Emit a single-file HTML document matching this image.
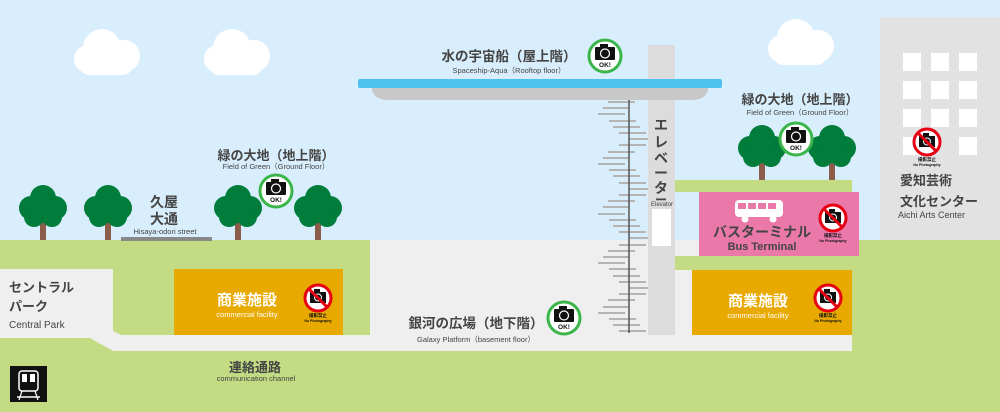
<!DOCTYPE html>
<html><head><meta charset="utf-8"><style>
html,body{margin:0;padding:0;background:#d9eefc;}
svg{display:block}
text{font-family:"Liberation Sans","Noto Sans CJK JP",sans-serif;}
.jp{font-weight:bold;fill:#444;}
.en{fill:#444;}
</style></head><body>
<svg width="1000" height="412" viewBox="0 0 1000 412" xmlns="http://www.w3.org/2000/svg">
<defs>
<g id="tree">
 <rect x="-3" y="12" width="6" height="22" fill="#8b5e4c"/>
 <circle cx="-12" cy="2" r="12" fill="#007d3a"/>
 <circle cx="12" cy="2" r="12" fill="#007d3a"/>
 <circle cx="0" cy="-8" r="13" fill="#007d3a"/>
 <circle cx="-9" cy="11" r="10" fill="#007d3a"/>
 <circle cx="9" cy="11" r="10" fill="#007d3a"/>
 <circle cx="0" cy="5" r="12" fill="#007d3a"/>
</g>
<g id="cloud">
 <circle cx="-18" cy="6" r="14" fill="#fff"/>
 <circle cx="18" cy="3" r="16" fill="#fff"/>
 <circle cx="-4" cy="-5" r="19" fill="#fff"/>
 <rect x="-26" y="4" width="52" height="18" rx="9" fill="#fff"/>
</g>
<g id="ok">
 <circle r="16" fill="#fff" stroke="#3bb54a" stroke-width="3"/>
 <rect x="-10" y="-9" width="20" height="13" rx="1" fill="#111"/>
 <rect x="-5" y="-12" width="8" height="4" fill="#111"/>
 <circle cx="0" cy="-2.5" r="4.5" fill="none" stroke="#fff" stroke-width="1.2"/>
 <text x="0" y="11" font-size="6.5" font-weight="bold" text-anchor="middle" fill="#111">OK!</text>
</g>
<g id="no">
 <circle r="13" fill="#fff" stroke="#e60012" stroke-width="3"/>
 <rect x="-8" y="-6" width="16" height="11" fill="#111"/>
 <rect x="-4" y="-9" width="6" height="3" fill="#111"/>
 <circle cx="0" cy="-0.5" r="3.5" fill="none" stroke="#fff" stroke-width="1"/>
 <line x1="-9" y1="-9" x2="9" y2="9" stroke="#e60012" stroke-width="3"/>
 <text x="0" y="19" font-size="4.5" font-weight="bold" text-anchor="middle" fill="#111">撮影禁止</text>
 <text x="0" y="24" font-size="3.5" font-weight="bold" text-anchor="middle" fill="#111">No Photography</text>
</g>
</defs>
<rect width="1000" height="412" fill="#d9eefc"/>
<use href="#cloud" x="106" y="53"/>
<use href="#cloud" x="236" y="53"/>
<use href="#cloud" x="800" y="43"/>
<!-- building -->
<rect x="880" y="17" width="120" height="225" fill="#e2e2e2"/>
<g fill="#fff">
<rect x="903" y="53" width="18" height="18"/><rect x="931" y="53" width="18" height="18"/><rect x="959" y="53" width="18" height="18"/>
<rect x="903" y="81" width="18" height="18"/><rect x="931" y="81" width="18" height="18"/><rect x="959" y="81" width="18" height="18"/>
<rect x="903" y="109" width="18" height="18"/><rect x="931" y="109" width="18" height="18"/><rect x="959" y="109" width="18" height="18"/>
<rect x="903" y="137" width="18" height="18"/><rect x="959" y="137" width="18" height="18"/>
</g>
<!-- ground -->
<rect x="0" y="240" width="1000" height="172" fill="#c3dc83"/>
<rect x="370" y="240" width="305" height="111" fill="#efefef"/>
<rect x="675" y="240" width="177" height="111" fill="#efefef"/>
<polygon points="0,269 113,269 113,331 121,335 852,335 852,351 113,351 90,338 0,338" fill="#efefef"/>
<rect x="674" y="180" width="178" height="12" fill="#c3dc83"/>
<rect x="674" y="256" width="178" height="14" fill="#c3dc83"/>
<rect x="852" y="240" width="148" height="172" fill="#c3dc83"/>
<rect x="121" y="237" width="91" height="4" fill="#888"/>
<!-- trees -->
<use href="#tree" x="43" y="206"/>
<use href="#tree" x="108" y="206"/>
<use href="#tree" x="238" y="206"/>
<use href="#tree" x="318" y="206"/>
<use href="#tree" x="762" y="146"/>
<use href="#tree" x="832" y="146"/>
<!-- boxes -->
<rect x="174" y="269" width="169" height="66" fill="#e8a900"/>
<rect x="692" y="270" width="160" height="65" fill="#e8a900"/>
<rect x="699" y="192" width="160" height="64" fill="#ea79a9"/>
<!-- bus -->
<g fill="#fff">
<rect x="735" y="200" width="48" height="17" rx="4"/>
<circle cx="745" cy="219" r="3.5"/><circle cx="773" cy="219" r="3.5"/>
</g>
<g fill="#ea79a9"><rect x="738" y="203" width="8" height="6"/><rect x="748" y="203" width="8" height="6"/><rect x="758" y="203" width="8" height="6"/><rect x="768" y="203" width="8" height="6"/></g>
<!-- elevator -->
<rect x="648" y="45" width="27" height="290" fill="#dcdcdc"/>
<rect x="652" y="209" width="19" height="37" fill="#fff"/>
<!-- spaceship -->
<path d="M372,88 L708,88 Q708,100 690,100 L390,100 Q372,100 372,88 Z" fill="#c8c8c8"/>
<rect x="358" y="79" width="364" height="9" rx="2" fill="#4fc1ef"/>
<!-- stairs -->
<g stroke="#b4b4b4" stroke-width="2">
<line x1="608" y1="102" x2="635" y2="102"/><line x1="603" y1="108" x2="629" y2="108"/><line x1="598" y1="114" x2="625" y2="114"/><line x1="609" y1="121" x2="636" y2="121"/><line x1="613" y1="127" x2="640" y2="127"/><line x1="619" y1="133" x2="646" y2="133"/><line x1="629" y1="139" x2="648" y2="139"/><line x1="619" y1="145" x2="646" y2="145"/><line x1="608" y1="152" x2="635" y2="152"/>
<line x1="603" y1="158" x2="629" y2="158"/><line x1="598" y1="164" x2="625" y2="164"/><line x1="609" y1="170" x2="636" y2="170"/><line x1="613" y1="176" x2="640" y2="176"/><line x1="619" y1="183" x2="646" y2="183"/><line x1="629" y1="189" x2="648" y2="189"/><line x1="619" y1="195" x2="646" y2="195"/><line x1="608" y1="201" x2="635" y2="201"/><line x1="603" y1="207" x2="629" y2="207"/>
<line x1="598" y1="214" x2="625" y2="214"/><line x1="609" y1="220" x2="636" y2="220"/><line x1="613" y1="226" x2="640" y2="226"/><line x1="619" y1="232" x2="646" y2="232"/><line x1="629" y1="238" x2="648" y2="238"/><line x1="619" y1="245" x2="646" y2="245"/><line x1="608" y1="251" x2="635" y2="251"/><line x1="603" y1="257" x2="629" y2="257"/><line x1="598" y1="263" x2="625" y2="263"/>
<line x1="609" y1="269" x2="636" y2="269"/><line x1="613" y1="276" x2="640" y2="276"/><line x1="619" y1="282" x2="646" y2="282"/><line x1="629" y1="288" x2="648" y2="288"/><line x1="619" y1="294" x2="646" y2="294"/><line x1="608" y1="300" x2="635" y2="300"/><line x1="603" y1="307" x2="629" y2="307"/><line x1="598" y1="313" x2="625" y2="313"/><line x1="609" y1="319" x2="636" y2="319"/><line x1="613" y1="325" x2="640" y2="325"/><line x1="619" y1="331" x2="646" y2="331"/>
</g>
<line x1="629" y1="100" x2="629" y2="333" stroke="#555" stroke-width="1.5"/>
<!-- train icon -->
<rect x="10" y="366" width="37" height="36" fill="#111"/>
<rect x="19" y="371" width="19" height="20" rx="3" fill="none" stroke="#fff" stroke-width="1.5"/>
<rect x="22" y="374" width="5" height="8" fill="#fff"/><rect x="30" y="374" width="5" height="8" fill="#fff"/>
<line x1="17" y1="397" x2="40" y2="397" stroke="#fff" stroke-width="1.5"/>
<line x1="22" y1="391" x2="19" y2="400" stroke="#fff" stroke-width="1.2"/><line x1="35" y1="391" x2="38" y2="400" stroke="#fff" stroke-width="1.2"/>
<!-- badges -->
<use href="#ok" x="276" y="191"/>
<use href="#ok" x="605" y="56"/>
<use href="#ok" x="564" y="318"/>
<use href="#ok" x="796" y="139"/>
<use href="#no" x="927" y="142"/>
<use href="#no" x="833" y="218"/>
<use href="#no" x="318" y="298"/>
<use href="#no" x="828" y="298"/>
<!-- texts -->
<text class="jp" x="276" y="160" font-size="13" text-anchor="middle">緑の大地（地上階）</text>
<text class="en" x="276" y="169" font-size="7.5" text-anchor="middle">Field of Green（Ground Floor）</text>
<text class="jp" x="164" y="207" font-size="14" text-anchor="middle">久屋</text>
<text class="jp" x="164" y="224" font-size="14" text-anchor="middle">大通</text>
<text class="en" x="165" y="234" font-size="7.5" text-anchor="middle">Hisaya-odori street</text>
<text class="jp" x="509" y="61" font-size="13.5" text-anchor="middle">水の宇宙船（屋上階）</text>
<text class="en" x="509" y="73" font-size="7.5" text-anchor="middle">Spaceship-Aqua（Rooftop floor）</text>
<text class="jp" x="800" y="104" font-size="13" text-anchor="middle">緑の大地（地上階）</text>
<text class="en" x="800" y="115" font-size="7.5" text-anchor="middle">Field of Green（Ground Floor）</text>
<text class="jp" x="900" y="185" font-size="13">愛知芸術</text>
<text class="jp" x="900" y="206" font-size="13">文化センター</text>
<text class="en" x="898" y="218" font-size="9">Aichi Arts Center</text>
<g class="jp" font-size="14" text-anchor="middle">
<text x="661" y="130">エ</text><text x="661" y="147">レ</text><text x="661" y="163">ベ</text><text x="661" y="178">ー</text><text x="661" y="193">タ</text><text x="661" y="204" font-size="12">ー</text>
</g>
<text class="en" x="662" y="206" font-size="6" text-anchor="middle">Elevator</text>
<text class="jp" x="762" y="237" font-size="14" text-anchor="middle">バスターミナル</text>
<text class="en" x="762" y="250" font-size="11" font-weight="bold" text-anchor="middle" fill="#444">Bus Terminal</text>
<text x="247" y="305" font-size="15" font-weight="bold" fill="#fff" text-anchor="middle">商業施設</text>
<text x="247" y="317" font-size="7.5" fill="#fff" text-anchor="middle">commercial facility</text>
<text x="758" y="306" font-size="15" font-weight="bold" fill="#fff" text-anchor="middle">商業施設</text>
<text x="758" y="318" font-size="7.5" fill="#fff" text-anchor="middle">commercial facility</text>
<text class="jp" x="476" y="328" font-size="13.5" text-anchor="middle">銀河の広場（地下階）</text>
<text class="en" x="476" y="342" font-size="7.5" text-anchor="middle">Galaxy Platform（basement floor）</text>
<text class="jp" x="9" y="292" font-size="13">セントラル</text>
<text class="jp" x="9" y="311" font-size="13">パーク</text>
<text class="en" x="9" y="328" font-size="10">Central Park</text>
<text class="jp" x="255" y="372" font-size="13" text-anchor="middle">連絡通路</text>
<text class="en" x="256" y="381" font-size="7.5" text-anchor="middle">communication channel</text>
</svg>
</body></html>
